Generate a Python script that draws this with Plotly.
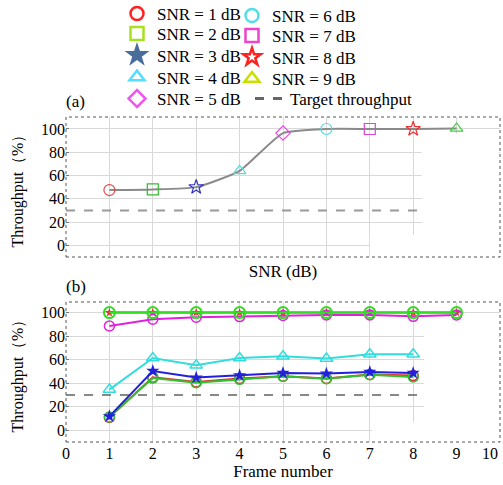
import plotly.graph_objects as go

# ---------------- data ----------------
snr_db = [1, 2, 3, 4, 5, 6, 7, 8, 9]
throughput_vs_snr = [47.5, 48, 50, 64, 96.5, 100, 100, 100, 100.5]

frames_full = [1, 2, 3, 4, 5, 6, 7, 8, 9]
frames_part = [1, 2, 3, 4, 5, 6, 7, 8]
tp_snr1 = [11, 45, 41, 44, 46, 44, 47.5, 46.5]
tp_snr2 = [11.3, 44.4, 40.5, 43.3, 45.9, 43.9, 47.3, 45.3]
tp_snr3 = [11.9, 50.4, 44.8, 46.7, 48.7, 48.2, 49.6, 48.7]
tp_snr4 = [34.6, 61.4, 55.2, 61.4, 62.9, 61.0, 64.6, 64.6]
tp_snr5 = [88.6, 94.3, 96.0, 96.6, 97.5, 98.0, 98.0, 96.8, 98.0]
tp_high = [100, 100, 100, 100, 100, 100, 100, 100, 100]

target_value = 30
target_extent = [0, 8.2]

frame_ticks = [0, 1, 2, 3, 4, 5, 6, 7, 8, 9]
last_frame_tick = "10"
y_ticks = [0, 20, 40, 60, 80, 100]

legend_labels = ["SNR = %d dB" % s for s in snr_db]
target_label = "Target throughput"

# ---------------- layout / styles ----------------
FONT = "Liberation Serif"
W, H = 503, 485
ML, MR, MT, MB = 66, 3, 117, 43
PW, PH = W - ML - MR, H - MT - MB

legend_style = [
    ("circle-open", "#ff2020"),
    ("square-open", "#a8e020"),
    ("star", "#4a6e9c"),
    ("triangle-up-open", "#55ddff"),
    ("diamond-open", "#ee55ee"),
    ("circle-open", "#55dde8"),
    ("square-open", "#ee44cc"),
    ("star-open", "#ff2020"),
    ("triangle-up-open", "#c8e000"),
]
# legend slot positions in pixels: (left x of legend box, row centre y)
legend_slots = [(117, 14), (117, 34), (117, 55.5), (117, 77.5), (117, 99),
                (232, 16), (232, 36), (232, 57.5), (232, 79)]
target_slot = (250, 99)

plot_style = [
    ("circle-open", "#e04848"),
    ("square-open", "#33bb33"),
    ("star-open", "#3333cc"),
    ("triangle-up-open", "#55dddd"),
    ("diamond-open", "#ee44ee"),
    ("circle-open", "#44dde8"),
    ("square-open", "#dd44dd"),
    ("star-open", "#ee3333"),
    ("triangle-up-open", "#44cc44"),
]


def px_x(px):
    return (px - ML) / PW


def px_y(py):
    return (H - MB - py) / PH


fig = go.Figure()

# top: connecting gray curve
fig.add_trace(go.Scatter(x=snr_db, y=throughput_vs_snr, mode="lines",
                         line=dict(color="#8a8a8a", width=2, shape="spline", smoothing=0.5),
                         showlegend=False, xaxis="x", yaxis="y", hoverinfo="skip"))
# top: markers
for i, s in enumerate(snr_db):
    sym, col = plot_style[i]
    fig.add_trace(go.Scatter(x=[s], y=[throughput_vs_snr[i]], mode="markers",
                             marker=dict(symbol=sym, color=col, size=11, line=dict(width=1.2, color=col)),
                             showlegend=False, xaxis="x", yaxis="y"))
# top: target
fig.add_trace(go.Scatter(x=target_extent, y=[target_value] * 2, mode="lines",
                         line=dict(color="#9a9a9a", width=2, dash="dash"),
                         showlegend=False, xaxis="x", yaxis="y"))

# bottom
fig.add_trace(go.Scatter(x=target_extent, y=[target_value] * 2, mode="lines",
                         line=dict(color="#888888", width=2, dash="dash"),
                         showlegend=False, xaxis="x2", yaxis="y2"))
bottom_series = [
    (frames_full, tp_high, "#e03030", "star", 7, 0),
    (frames_full, tp_snr5, "#e020e0", "circle-open", 10, 1.5),
    (frames_part, tp_snr4, "#33dddd", "triangle-up-open", 11, 1.5),
    (frames_part, tp_snr1, "#e03030", "circle-open", 10, 1.5),
    (frames_part, tp_snr2, "#30c030", "circle-open", 10, 1.5),
    (frames_part, tp_snr3, "#2020dd", "star", 10, 0),
    (frames_full, tp_high, "#33dd22", "circle-open", 11, 2),
]
for xs, ys, col, sym, sz, lw in bottom_series:
    fig.add_trace(go.Scatter(x=xs, y=ys, mode="lines+markers",
                             line=dict(color=col, width=2),
                             marker=dict(symbol=sym, color=col, size=sz, line=dict(width=lw, color=col)),
                             showlegend=False, xaxis="x2", yaxis="y2"))

# legend entries: one small legend per entry, placed like the reference grid
legend_layouts = {}
for i, lab in enumerate(legend_labels):
    sym, col = legend_style[i]
    lname = "legend" if i == 0 else "legend%d" % (i + 1)
    fig.add_trace(go.Scatter(x=[None], y=[None], mode="markers", name=lab,
                             marker=dict(symbol=sym, color=col, size=13, line=dict(width=2.5, color=col)),
                             legend=lname, xaxis="x", yaxis="y"))
    lx, ly = legend_slots[i]
    legend_layouts[lname] = dict(x=px_x(lx), y=px_y(ly), xanchor="left", yanchor="middle",
                                 bgcolor="rgba(0,0,0,0)", font=dict(family=FONT, size=17, color="black"))
lname = "legend%d" % (len(legend_labels) + 1)
fig.add_trace(go.Scatter(x=[None], y=[None], mode="lines", name=target_label,
                         line=dict(color="#666666", width=3, dash="dash"),
                         legend=lname, xaxis="x", yaxis="y"))
legend_layouts[lname] = dict(x=px_x(target_slot[0]), y=px_y(target_slot[1]), xanchor="left",
                             yanchor="middle", bgcolor="rgba(0,0,0,0)",
                             font=dict(family=FONT, size=17, color="black"))

grid = "#d9d9d9"
common_x = dict(range=[0, 10], tickvals=frame_ticks, showgrid=True, gridcolor=grid, gridwidth=1,
                zeroline=False, showline=False, ticks="", tickfont=dict(family=FONT, size=16, color="black"),
                fixedrange=True, automargin=False)
common_y = dict(tickvals=y_ticks, showgrid=True, gridcolor=grid, gridwidth=1,
                zeroline=False, showline=False, ticks="inside", ticklen=3, tickcolor="#777",
                tickfont=dict(family=FONT, size=16, color="black"),
                title=dict(text="Throughput（%）", font=dict(family=FONT, size=16, color="black"), standoff=13),
                fixedrange=True, automargin=False)

fig.update_layout(
    width=W, height=H,
    margin=dict(l=ML, r=MR, t=MT, b=MB, autoexpand=False),
    paper_bgcolor="white", plot_bgcolor="white",
    font=dict(family=FONT, size=16, color="black"),
    xaxis=dict(common_x, domain=[0, 1], anchor="y", showticklabels=False,
               title=dict(text="SNR (dB)", font=dict(family=FONT, size=17, color="black"), standoff=8)),
    yaxis=dict(common_y, domain=[0.5692, 1], anchor="x", range=[-10.1, 110.3]),
    xaxis2=dict(common_x, domain=[0, 1], anchor="y2",
                title=dict(text="Frame number", font=dict(family=FONT, size=17, color="black"), standoff=2)),
    yaxis2=dict(common_y, domain=[0, 0.4308], anchor="x2", range=[-9.9, 109]),
    showlegend=True,
    **legend_layouts,
)

shapes = []
# white patches over the grid (as in the reference)
shapes.append(dict(type="rect", xref="x", yref="y", x0=8.2, x1=9.97, y0=-10, y1=96,
                   fillcolor="white", line=dict(width=0), layer="between"))
shapes.append(dict(type="rect", xref="x", yref="y", x0=7.0, x1=8.3, y0=-10, y1=8.8,
                   fillcolor="white", line=dict(width=0), layer="between"))
shapes.append(dict(type="rect", xref="x2", yref="y2", x0=8.25, x1=9.97, y0=-9.8, y1=99,
                   fillcolor="white", line=dict(width=0), layer="between"))
shapes.append(dict(type="rect", xref="x2", yref="y2", x0=7.05, x1=8.3, y0=-9.8, y1=7,
                   fillcolor="white", line=dict(width=0), layer="between"))
# dotted frames
for xr, yr in [("x", "y"), ("x2", "y2")]:
    shapes.append(dict(type="rect", xref=xr + " domain", yref=yr + " domain", x0=0, x1=1, y0=0, y1=1,
                       line=dict(color="#555555", width=1, dash="dot"), fillcolor="rgba(0,0,0,0)",
                       layer="above"))
fig.update_layout(shapes=shapes)

fig.add_annotation(text="(a)", xref="paper", yref="paper", x=-0.005, y=1.0, xanchor="left", yanchor="bottom",
                   yshift=4, showarrow=False, font=dict(family=FONT, size=17, color="black"))
fig.add_annotation(text="(b)", xref="paper", yref="paper", x=-0.005, y=0.4308, xanchor="left", yanchor="bottom",
                   yshift=4, showarrow=False, font=dict(family=FONT, size=17, color="black"))
# last tick label of the frame axis, drawn just inside the right edge as in the reference
fig.add_annotation(text=last_frame_tick, xref="paper", yref="paper", x=px_x(490), y=0, xanchor="center",
                   yanchor="top", yshift=-1, showarrow=False, font=dict(family=FONT, size=16, color="black"))

fig.write_html("out.html", config={"displayModeBar": False},
               post_script="document.body.style.margin='0px';")
